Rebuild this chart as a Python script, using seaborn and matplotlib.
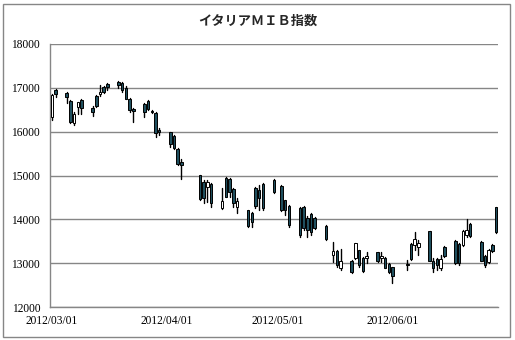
import matplotlib
matplotlib.use('Agg')
import matplotlib.pyplot as plt
import matplotlib.dates as mdates
from matplotlib.patches import Rectangle
import seaborn as sns
import pandas as pd

# ---- data ----
dates = ['2012-03-01','2012-03-02','2012-03-05','2012-03-06','2012-03-07','2012-03-08','2012-03-09',
         '2012-03-12','2012-03-13','2012-03-14','2012-03-15','2012-03-16',
         '2012-03-19','2012-03-20','2012-03-21','2012-03-22','2012-03-23',
         '2012-03-26','2012-03-27','2012-03-28','2012-03-29','2012-03-30',
         '2012-04-02','2012-04-03','2012-04-04','2012-04-05',
         '2012-04-10','2012-04-11','2012-04-12','2012-04-13',
         '2012-04-16','2012-04-17','2012-04-18','2012-04-19','2012-04-20',
         '2012-04-23','2012-04-24','2012-04-25','2012-04-26','2012-04-27',
         '2012-04-30','2012-05-02','2012-05-03','2012-05-04',
         '2012-05-07','2012-05-08','2012-05-09','2012-05-10','2012-05-11',
         '2012-05-14','2012-05-16','2012-05-17','2012-05-18',
         '2012-05-21','2012-05-22','2012-05-23','2012-05-24','2012-05-25',
         '2012-05-28','2012-05-29','2012-05-30','2012-05-31','2012-06-01',
         '2012-06-05','2012-06-06','2012-06-07','2012-06-08',
         '2012-06-11','2012-06-12','2012-06-13','2012-06-14','2012-06-15',
         '2012-06-18','2012-06-19','2012-06-20','2012-06-21','2012-06-22',
         '2012-06-25','2012-06-26','2012-06-27','2012-06-28','2012-06-29']

opens  = [16330,16950,16880,16700,16190,16560,16720,16540,16810,16855,17015,17083,
          17128,17106,16990,16740,16510,16627,16695,16467,16421,16033,
          15988,15897,15600,15300,15000,14847,14733,14800,
          14254,14940,14916,14687,14277,14208,14140,14710,14665,14800,
          14900,14756,14437,14300,14260,14280,14026,14120,14030,
          13850,13182,13280,12885,13050,13113,13290,13120,13113,
          13250,13113,13113,12990,12908,12990,13440,13410,13364,
          13729,13050,13100,12885,13380,13500,13440,13410,13638,13900,
          13480,13170,13022,13420,14270]
highs  = [16860,16970,16900,16720,16440,16680,16740,16580,16830,17060,17037,17106,
          17151,17128,17037,16763,16535,16649,16718,16490,16444,16079,
          15990,15920,15622,15371,15007,14893,14893,14824,
          14710,14961,14938,14710,14482,14210,14163,14733,14779,14824,
          14916,14779,14450,14322,14277,14300,14072,14140,14049,
          13866,13478,13296,13319,13067,13460,13296,13136,13250,
          13260,13250,13136,12999,12920,13067,13455,13706,13524,
          13740,13113,13113,13182,13387,13524,13455,13750,14003,13912,
          13501,13182,13320,13433,14277]
lows   = [16260,16790,16650,16190,16150,16400,16400,16350,16560,16810,16877,16946,
          16992,16900,16740,16444,16216,16330,16490,16421,15874,15919,
          15645,15600,15234,14916,14437,14368,14391,14277,
          14231,14505,14505,14277,14140,13820,13820,14254,14208,14208,
          14596,14185,14094,13820,13592,13752,13592,13638,13775,
          13524,13022,12908,12839,12771,13100,12908,12794,13000,
          13022,13022,12885,12771,12543,12839,13067,13296,13182,
          13044,12794,12839,12839,13136,12976,12953,13400,13592,13592,
          13044,12908,13000,13250,13683]
closes = [16830,16860,16790,16220,16400,16670,16540,16450,16580,16900,16900,17014,
          17060,16946,16745,16490,16470,16444,16512,16444,15965,15988,
          15714,15622,15260,15240,14460,14482,14847,14368,
          14413,14520,14619,14368,14413,13843,13950,14300,14482,14250,
          14620,14208,14208,13870,13650,13800,13752,13700,13800,
          13560,13273,12950,13044,12800,13455,12950,12830,13159,
          13040,13159,12900,12800,12703,12960,13100,13546,13455,
          13060,12900,12950,13090,13160,13000,13000,13729,13752,13620,
          13060,12950,13296,13270,13720]

y_ticks = [12000, 13000, 14000, 15000, 16000, 17000, 18000]
x_tick_dates = ['2012-03-01', '2012-04-01', '2012-05-01', '2012-06-01']
x_tick_labels = ['2012/03/01', '2012/04/01', '2012/05/01', '2012/06/01']
title = 'イタリアＭＩＢ指数'

# ---- style ----
sns.set_style('white')
plt.rcParams['font.family'] = ['Liberation Serif', 'DejaVu Sans']

df = pd.DataFrame({'date': pd.to_datetime(dates), 'open': opens, 'high': highs,
                   'low': lows, 'close': closes})
df['x'] = mdates.date2num(df['date'])
df['up'] = df['close'] >= df['open']

W, H = 515, 340
fig = plt.figure(figsize=(W / 100, H / 100), dpi=100)
ax = fig.add_axes([50 / W, 1 - 307 / H, 448 / W, 263 / H])

# wicks via seaborn (one line per day)
wick = pd.concat([df[['x', 'high']].rename(columns={'high': 'v'}).assign(id=df.index),
                  df[['x', 'low']].rename(columns={'low': 'v'}).assign(id=df.index)])
sns.lineplot(data=wick, x='x', y='v', units='id', estimator=None, color='black',
             linewidth=1.0, ax=ax, legend=False, sort=False)

# bodies
body_bottom = df[['open', 'close']].min(axis=1)
body_h = (df['close'] - df['open']).abs().clip(lower=12)
colors = ['white' if u else '#1f4f5e' for u in df['up']]
ax.bar(df['x'], body_h, bottom=body_bottom, width=0.68, color=colors,
       edgecolor='black', linewidth=0.7, zorder=3)

x0 = mdates.date2num(pd.Timestamp('2012-03-01')) - 0.5
x1 = mdates.date2num(pd.Timestamp('2012-06-29')) + 0.5
ax.set_xlim(x0, x1)
ax.set_ylim(12000, 18000)
ax.set_yticks(y_ticks)
ax.set_yticklabels([str(t) for t in y_ticks])
ax.set_xticks(mdates.date2num(pd.to_datetime(x_tick_dates)))
ax.set_xticklabels(x_tick_labels)
ax.set_xlabel('')
ax.set_ylabel('')
ax.yaxis.grid(True, color='#868686', linewidth=1.0)
ax.xaxis.grid(False)
ax.set_axisbelow(True)
for s in ['top', 'right']:
    ax.spines[s].set_visible(False)
for s in ['left', 'bottom']:
    ax.spines[s].set_color('#868686')
    ax.spines[s].set_linewidth(1.0)
ax.tick_params(axis='both', length=0, labelsize=8.3, colors='black')
ax.tick_params(axis='y', pad=7)
ax.tick_params(axis='x', pad=6)

fig.text(0.5, 1 - 21 / H, title, ha='center', va='center', fontsize=9.5,
         fontweight='bold', family=['Noto Sans CJK JP', 'DejaVu Sans'])

fig.patches.append(Rectangle((3 / W, 3 / H), 507 / W, 333 / H, transform=fig.transFigure,
                             fill=False, edgecolor='#868686', linewidth=1.0))

fig.savefig('out.png', dpi=100)
